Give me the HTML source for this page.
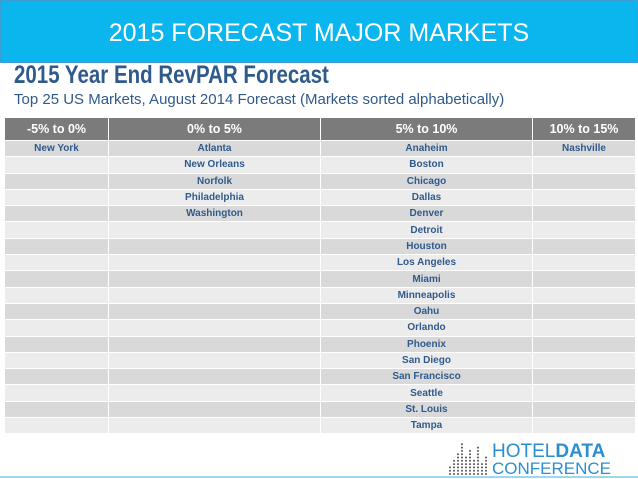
<!DOCTYPE html>
<html><head><meta charset="utf-8"><style>
body{margin:0;width:638px;height:479px;overflow:hidden;background:#fff;font-family:"Liberation Sans",sans-serif;position:relative}
.hdr{position:absolute;left:0;top:0;width:636px;height:61px;background:#0bb6ef;border:1px solid #3a9fd0;color:#fff;font-size:25px;text-align:center;line-height:64px}
.t1{position:absolute;left:14px;top:61px;font-size:25px;font-weight:bold;color:#2f5a8c;transform:scaleX(0.82);transform-origin:0 0;white-space:nowrap}
.t2{position:absolute;left:14px;top:91px;font-size:15px;color:#2f5a8c;white-space:nowrap}
table{position:absolute;left:4px;top:117px;border-collapse:collapse;width:631px;table-layout:fixed}
th{background:#7b7b7b;color:#fff;font-size:12.5px;height:20px;border:1px solid #fff;font-weight:bold}
td{height:15.3px;border:1px solid #fff;font-size:10px;font-weight:bold;color:#2f5a8c;text-align:center;padding:0}
tr.a td{background:#d9d9d9}tr.b td{background:#ececec}
.logo{position:absolute;left:448px;top:438px;width:186px;height:38px}
.line{position:absolute;left:0;top:476px;width:638px;height:2px;background:#9fd7ef}
</style></head><body>
<div class="hdr">2015 FORECAST MAJOR MARKETS</div>
<div class="t1">2015 Year End RevPAR Forecast</div>
<div class="t2">Top 25 US Markets, August 2014 Forecast (Markets sorted alphabetically)</div>
<table>
<colgroup><col style="width:104px"><col style="width:212px"><col style="width:212px"><col style="width:103px"></colgroup>
<thead><tr><th>-5% to 0%</th><th>0% to 5%</th><th>5% to 10%</th><th>10% to 15%</th></tr></thead>
<tbody id="tb"></tbody></table>
<svg class="logo" viewBox="0 0 186 38">
<g fill="#555" id="dots"></g>
<text x="44" y="19" font-size="19" fill="#2a8fd0" font-family="Liberation Sans">HOTEL<tspan font-weight="bold">DATA</tspan></text>
<text x="44" y="36" font-size="17" fill="#2a8fd0" font-family="Liberation Sans">CONFERENCE</text>
</svg>
<div class="line"></div>
<script>
const colNeg=["New York"];
const col0to5=["Atlanta","New Orleans","Norfolk","Philadelphia","Washington"];
const col5to10=["Anaheim","Boston","Chicago","Dallas","Denver","Detroit","Houston","Los Angeles","Miami","Minneapolis","Oahu","Orlando","Phoenix","San Diego","San Francisco","Seattle","St. Louis","Tampa"];
const col10to15=["Nashville"];
const tb=document.getElementById('tb');
const n=Math.max(colNeg.length,col0to5.length,col5to10.length,col10to15.length);
for(let i=0;i<n;i++){
 const tr=document.createElement('tr');tr.className=i%2?'b':'a';
 
 
 [colNeg,col0to5,col5to10,col10to15].forEach(c=>{const td=document.createElement('td');td.textContent=c[i]||'';
 
 
 tr.appendChild(td);});
 tb.appendChild(tr);
}
const hs=[3,5,7,10,6,8,5,9,4,6];const g=document.getElementById('dots');
hs.forEach((h,i)=>{for(let j=0;j<h;j++){const c=document.createElementNS('http://www.w3.org/2000/svg','circle');c.setAttribute('cx',2+i*4);c.setAttribute('cy',36-j*3.3);c.setAttribute('r',1);g.appendChild(c);}});
</script>
</body></html>
